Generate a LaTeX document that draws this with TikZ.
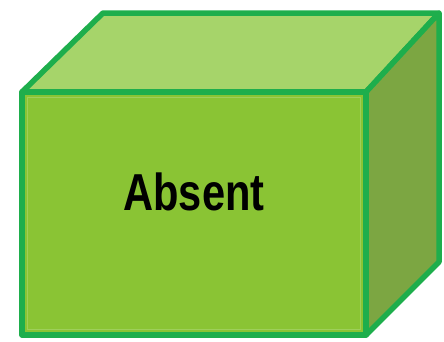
\documentclass[tikz,border=0pt]{standalone}
\usepackage{fontspec}
\usepackage{xcolor}
\usepackage{tikz}
\usetikzlibrary{positioning}
\newfontfamily\boxfont[FakeStretch=0.8]{Liberation Sans}
\definecolor{frontgreen}{RGB}{138,196,52}
\definecolor{topgreen}{RGB}{166,212,106}
\definecolor{sidegreen}{RGB}{124,166,66}
\definecolor{edgegreen}{RGB}{30,174,76}

\begin{document}
\begin{tikzpicture}[
  x=1pt, y=-1pt,
  face/.style={draw=edgegreen, line width=5.5pt, line join=round},
  label/.style={font=\boxfont\bfseries\fontsize{52}{52}\selectfont, text=black, inner sep=0pt}
]
\useasboundingbox (0,0) rectangle (444,341);
% corners of the box
\coordinate (fl) at (22,92);
\coordinate (fr) at (366,92);
\coordinate (br) at (366,335);
\coordinate (bl) at (22,335);
\coordinate (tl) at (103,13);
\coordinate (tr) at (439,13);
\coordinate (rb) at (439,262);
% faces
\draw[face, fill=topgreen] (fl) -- (tl) -- (tr) -- (fr) -- cycle;
\draw[face, fill=sidegreen] (fr) -- (tr) -- (rb) -- (br) -- cycle;
\draw[face, fill=frontgreen] (fl) -- (fr) -- (br) -- (bl) -- cycle;
\draw[topgreen!70!frontgreen, line width=1.5pt] ([shift={(5.5,5.5)}]fl) rectangle ([shift={(-5.5,-5.5)}]br);
\node[label] (absent) at (194,192) {Absent};
\end{tikzpicture}
\end{document}
